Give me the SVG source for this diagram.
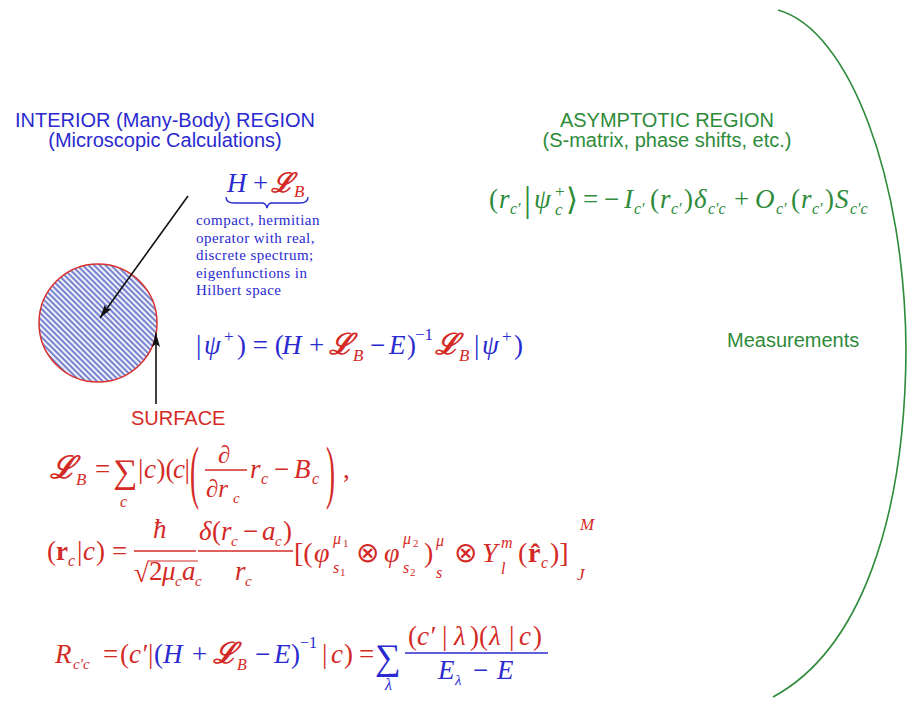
<svg xmlns="http://www.w3.org/2000/svg" width="907" height="701" viewBox="0 0 907 701">
<style>
.lab{font-family:"Liberation Sans",Arial,sans-serif;font-size:20px}
.m{font-family:"Liberation Serif","Times New Roman",serif;font-size:27px}
.i{font-style:italic}
.b{font-weight:bold}
.sc{font-family:"DejaVu Serif",serif;font-style:italic;font-weight:bold}
.blue{fill:#2a2ad0}
.red{fill:#d42a26}
.green{fill:#2e8b3a}
.body{font-family:"Liberation Serif","Times New Roman",serif;font-size:15px;letter-spacing:0.45px;fill:#2a2ad0}
</style>
<defs>
<pattern id="hatch" width="4" height="4" patternUnits="userSpaceOnUse" patternTransform="rotate(45)">
<rect width="4" height="4" fill="#f0f1fa"/>
<line x1="0" y1="1" x2="4" y2="1" stroke="#6270c8" stroke-width="1.7"/>
</pattern>
<marker id="ah" viewBox="0 0 14 8" refX="14" refY="4" markerWidth="14" markerHeight="8" markerUnits="userSpaceOnUse" orient="auto">
<path d="M0,0 L14,4 L0,8 L3,4 Z" fill="#111"/>
</marker>
</defs>
<rect width="907" height="701" fill="#fff"/>

<g id="boundary">
<path d="M778 10 C850 30 905 180 906 350 C905 520 860 650 773 697" fill="none" stroke="#2e8b3a" stroke-width="1.6"/>
</g>

<g id="interior">
<circle cx="98" cy="323" r="59" fill="url(#hatch)" stroke="#d8302c" stroke-width="1.5"/>
</g>

<g id="connectors">
<line x1="188" y1="196" x2="100" y2="318" stroke="#111" stroke-width="1.6" marker-end="url(#ah)"/>
<line x1="156" y1="404" x2="156" y2="333" stroke="#111" stroke-width="1.6" marker-end="url(#ah)"/>
</g>

<g id="interior-label">
<text class="lab blue" x="165" y="127" text-anchor="middle" font-size="21">INTERIOR (Many-Body) REGION</text>
<text class="lab blue" x="165" y="147" text-anchor="middle" font-size="21">(Microscopic Calculations)</text>
</g>

<g id="asymptotic-label">
<text class="lab green" x="667" y="127" text-anchor="middle">ASYMPTOTIC REGION</text>
<text class="lab green" x="667" y="147" text-anchor="middle">(S-matrix, phase shifts, etc.)</text>
</g>

<g id="measurements">
<text class="lab green" x="727" y="347" font-size="19.3">Measurements</text>
</g>

<g id="surface">
<text class="lab red" x="131" y="425">SURFACE</text>
</g>

<g id="operator">
<text class="m" y="192"><tspan class="i blue" x="227">H</tspan><tspan class="blue" x="253">+</tspan><tspan class="sc red" x="271" font-size="27">ℒ</tspan><tspan class="i red" x="294" y="197" font-size="17">B</tspan></text>
<path d="M226 197 Q226 203 234 203 L262 203 Q266 203 267 208 Q268 203 272 203 L300 203 Q308 203 308 197" fill="none" stroke="#2a2ad0" stroke-width="1.4"/>
<text class="body"><tspan x="196" y="225">compact, hermitian</tspan><tspan x="196" y="242.5">operator with real,</tspan><tspan x="196" y="260">discrete spectrum;</tspan><tspan x="196" y="277.5">eigenfunctions in</tspan><tspan x="196" y="295">Hilbert space</tspan></text>
</g>

<g id="eq-psi">
<text class="m blue" y="354" font-size="28"><tspan x="196">|</tspan><tspan class="i" x="204">ψ</tspan><tspan x="224" y="342" font-size="17">+</tspan><tspan x="237" y="354">) = (</tspan><tspan class="i" x="282">H</tspan><tspan x="309">+</tspan><tspan class="sc red" x="329" font-size="29">ℒ</tspan><tspan class="i red" x="353" y="361" font-size="17">B</tspan><tspan x="370" y="354">−</tspan><tspan class="i" x="389">E</tspan><tspan x="407">)</tspan><tspan x="415" y="340" font-size="17">−1</tspan><tspan class="sc red" x="435" y="354" font-size="29">ℒ</tspan><tspan class="i red" x="459" y="361" font-size="17">B</tspan><tspan x="474" y="354">|</tspan><tspan class="i" x="482">ψ</tspan><tspan x="502" y="342" font-size="17">+</tspan><tspan x="514" y="354">)</tspan></text>
</g>

<g id="eq-asym">
<text class="m green" y="208" font-size="28"><tspan x="489">(</tspan><tspan class="i" x="499">r</tspan><tspan class="i" x="510" y="214" font-size="16">c′</tspan><tspan x="524" y="211" font-size="35">|</tspan><tspan class="i" x="534" y="208">ψ</tspan><tspan x="555" y="197" font-size="17">+</tspan><tspan class="i" x="555" y="215" font-size="17">c</tspan><tspan x="566" y="210" font-size="31" font-family="DejaVu Serif">⟩</tspan><tspan x="583" y="208">=</tspan><tspan x="604">−</tspan><tspan class="i" x="624">I</tspan><tspan class="i" x="634" y="214" font-size="16">c′</tspan><tspan x="650" y="208">(</tspan><tspan class="i" x="660">r</tspan><tspan class="i" x="671" y="214" font-size="16">c′</tspan><tspan x="684" y="208">)</tspan><tspan class="i" x="694">δ</tspan><tspan class="i" x="708" y="214" font-size="16">c′c</tspan><tspan x="734" y="208">+</tspan><tspan class="i" x="755">O</tspan><tspan class="i" x="776" y="214" font-size="16">c′</tspan><tspan x="791" y="208">(</tspan><tspan class="i" x="801">r</tspan><tspan class="i" x="812" y="214" font-size="16">c′</tspan><tspan x="825" y="208">)</tspan><tspan class="i" x="835">S</tspan><tspan class="i" x="850" y="214" font-size="16">c′c</tspan></text>
</g>

<g id="eq-LB">
<text class="m red" y="478"><tspan class="sc" x="50" font-size="31">ℒ</tspan><tspan class="i" x="76" y="485" font-size="17">B</tspan><tspan x="95" y="478">=</tspan><tspan x="113" y="483" font-size="34">∑</tspan><tspan class="i" x="120" y="507" font-size="16">c</tspan><tspan x="138" y="478">|</tspan><tspan class="i" x="144">c</tspan><tspan x="156.5">)(</tspan><tspan class="i" x="173">c</tspan><tspan x="184.5">|</tspan><tspan class="i" x="218" y="463" font-size="25">∂</tspan><tspan class="i" x="206" y="497" font-size="25">∂r</tspan><tspan class="i" x="233" y="503" font-size="15">c</tspan><tspan class="i" x="250" y="478">r</tspan><tspan class="i" x="261" y="484" font-size="16">c</tspan><tspan x="274" y="478">−</tspan><tspan class="i" x="294">B</tspan><tspan class="i" x="312" y="484" font-size="16">c</tspan><tspan x="343" y="478">,</tspan></text>
<text class="m red" font-size="30" transform="translate(190,495) scale(1,2.6)">(</text>
<text class="m red" font-size="30" transform="translate(326,495) scale(1,2.6)">)</text>
<line x1="205" y1="470" x2="247" y2="470" stroke="#d42a26" stroke-width="1.4"/>
</g>

<g id="eq-rc">
<text class="m red" y="560"><tspan x="47">(</tspan><tspan class="b" x="56">r</tspan><tspan class="i" x="68" y="566" font-size="16">c</tspan><tspan x="77" y="560">|</tspan><tspan class="i" x="83">c</tspan><tspan x="96">)</tspan><tspan x="112">=</tspan><tspan class="i" x="153" y="538">ħ</tspan><tspan x="134" y="582">√</tspan><tspan x="149" y="580">2</tspan><tspan class="i" x="162">μ</tspan><tspan class="i" x="175" y="586" font-size="15">c</tspan><tspan class="i" x="182" y="580">a</tspan><tspan class="i" x="195" y="586" font-size="15">c</tspan><tspan class="i" x="199" y="540">δ</tspan><tspan x="212">(</tspan><tspan class="i" x="221">r</tspan><tspan class="i" x="231" y="546" font-size="15">c</tspan><tspan x="243" y="540">−</tspan><tspan class="i" x="262">a</tspan><tspan class="i" x="275" y="546" font-size="15">c</tspan><tspan x="283" y="540">)</tspan><tspan class="i" x="235" y="580">r</tspan><tspan class="i" x="245" y="586" font-size="15">c</tspan><tspan x="294" y="562" font-size="28">[(</tspan><tspan class="i" x="314" font-size="28">φ</tspan><tspan class="i" x="333" y="544" font-size="16">μ</tspan><tspan x="343" y="547" font-size="11">1</tspan><tspan class="i" x="333" y="573" font-size="16">s</tspan><tspan x="340" y="576" font-size="11">1</tspan><tspan x="356" y="562" font-size="28">⊗</tspan><tspan class="i" x="384" font-size="28">φ</tspan><tspan class="i" x="403" y="544" font-size="16">μ</tspan><tspan x="413" y="547" font-size="11">2</tspan><tspan class="i" x="403" y="573" font-size="16">s</tspan><tspan x="410" y="576" font-size="11">2</tspan><tspan x="424" y="562" font-size="28">)</tspan><tspan class="i" x="436" y="546" font-size="16">μ</tspan><tspan class="i" x="436" y="578" font-size="16">s</tspan><tspan x="454" y="562" font-size="28">⊗</tspan><tspan class="i" x="482" font-size="28">Y</tspan><tspan class="i" x="501" y="548" font-size="16">m</tspan><tspan class="i" x="501" y="574" font-size="16">l</tspan><tspan x="518" y="562" font-size="28">(</tspan><tspan class="b" x="528" font-size="28">r̂</tspan><tspan class="i" x="541" y="568" font-size="16">c</tspan><tspan x="550" y="562" font-size="28">)]</tspan><tspan class="i" x="580" y="530" font-size="17">M</tspan><tspan class="i" x="577" y="580" font-size="17">J</tspan></text>
<line x1="134" y1="551" x2="196" y2="551" stroke="#d42a26" stroke-width="1.4"/>
<line x1="148" y1="561" x2="198" y2="561" stroke="#d42a26" stroke-width="1.2"/>
<line x1="198" y1="551" x2="293" y2="551" stroke="#d42a26" stroke-width="1.4"/>
</g>

<g id="eq-R">
<text class="m" y="663"><tspan class="i red" x="55">R</tspan><tspan class="i red" x="73" y="669" font-size="15">c′c</tspan><tspan class="red" x="103" y="663">=</tspan><tspan class="red" x="120">(</tspan><tspan class="i red" x="129">c′</tspan><tspan class="red" x="148">|</tspan><tspan class="blue" x="154">(</tspan><tspan class="i blue" x="163">H</tspan><tspan class="blue" x="192">+</tspan><tspan class="sc red" x="213" font-size="29">ℒ</tspan><tspan class="i red" x="237" y="670" font-size="16">B</tspan><tspan class="blue" x="255" y="663">−</tspan><tspan class="i blue" x="274">E</tspan><tspan class="blue" x="291">)</tspan><tspan class="blue" x="300" y="648" font-size="16">−1</tspan><tspan class="red" x="322" y="663">|</tspan><tspan class="i red" x="331">c</tspan><tspan class="red" x="344">)</tspan><tspan class="red" x="359">=</tspan><tspan class="blue" x="375" y="669" font-size="36">∑</tspan><tspan class="i blue" x="385" y="690" font-size="16">λ</tspan><tspan class="red" x="408" y="645">(</tspan><tspan class="i red" x="417">c′</tspan><tspan class="red" x="442">|</tspan><tspan class="i red" x="454">λ</tspan><tspan class="red" x="470">)(</tspan><tspan class="i red" x="489">λ</tspan><tspan class="red" x="509">|</tspan><tspan class="i red" x="519">c</tspan><tspan class="red" x="533">)</tspan><tspan class="i blue" x="438" y="679">E</tspan><tspan class="i blue" x="455" y="685" font-size="15">λ</tspan><tspan class="blue" x="473" y="679">−</tspan><tspan class="i blue" x="497">E</tspan></text>
<line x1="405" y1="653" x2="548" y2="653" stroke="#2a2ad0" stroke-width="1.4"/>
</g>
</svg>
